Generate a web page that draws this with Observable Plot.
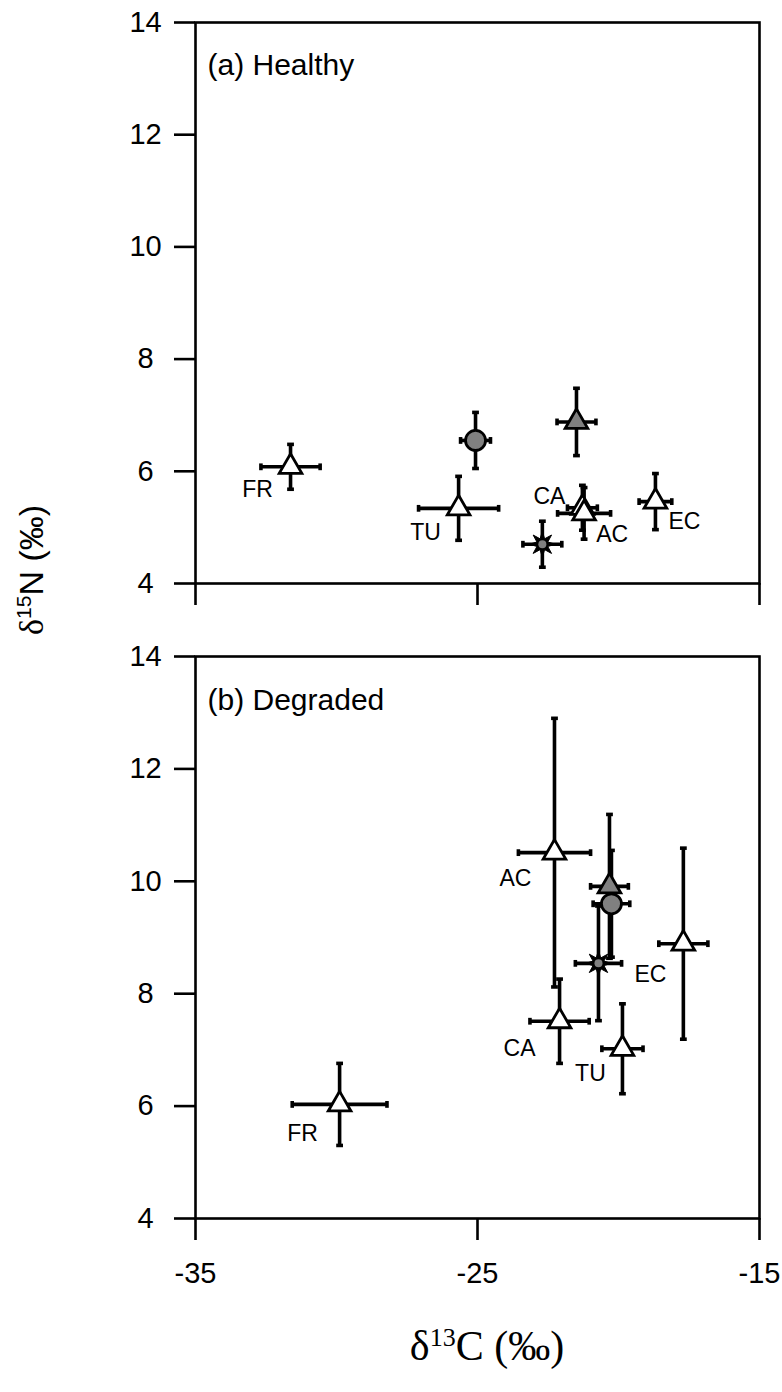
<!DOCTYPE html>
<html>
<head>
<meta charset="utf-8">
<script src="https://cdn.jsdelivr.net/npm/d3@7"></script>
<script src="https://cdn.jsdelivr.net/npm/@observablehq/plot@0.6"></script>
<style>
  body { margin: 0; background: #fff; }
  #wrap { position: relative; width: 782px; height: 1392px; font-family: "Liberation Sans", Arial, sans-serif; }
  #wrap svg { display: block; }
  .ylab { position: absolute; left: 31px; top: 570px; transform: translate(-50%, -50%) rotate(-90deg); font-size: 34px; white-space: nowrap; color: #000; }
  .ylab .d { font-family: "Liberation Serif", "Times New Roman", serif; }
  .xlab { position: absolute; left: 487px; top: 1346px; transform: translate(-50%, -50%); font-family: "Liberation Serif", "Times New Roman", serif; font-size: 42px; white-space: nowrap; color: #000; }
  sup { font-size: 0.62em; vertical-align: 0.55em; line-height: 0; }
</style>
</head>
<body>
<div id="wrap"></div>
<script>
// ---------------- data ----------------
const groups = ["FR", "TU", "CA", "AC", "EC", "circle", "grayTriangle", "star"];
const pointLabels = ["FR", "TU", "CA", "AC", "EC", "", "", ""];

// (a) Healthy
const healthyC    = [-31.63, -25.67, -21.28, -21.22, -18.69, -25.07, -21.49, -22.70];
const healthyCErr = [  1.05,   1.42,   0.53,   0.94,   0.58,   0.53,   0.69,   0.69];
const healthyN    = [  6.08,   5.34,   5.35,   5.25,   5.46,   6.55,   6.88,   4.70];
const healthyNErr = [  0.40,   0.57,   0.40,   0.46,   0.50,   0.50,   0.60,   0.41];

// (b) Degraded
const degradedC    = [-29.89, -19.86, -22.09, -22.27, -17.70, -20.25, -20.32, -20.71];
const degradedCErr = [  1.68,   0.73,   1.05,   1.28,   0.87,   0.65,   0.67,   0.82];
const degradedN    = [  6.03,   7.02,   7.51,  10.51,   8.89,   9.60,   9.91,   8.54];
const degradedNErr = [  0.73,   0.80,   0.75,   2.39,   1.70,   0.95,   1.28,   1.02];

const xTicks = [-35, -25, -15];
const yTicks = [4, 6, 8, 10, 12, 14];
const panelTitles = ["(a) Healthy", "(b) Degraded"];

// label placement (pixels, relative to point)
const labelOffsets = {
  healthy:  {FR: [-33, 23], TU: [-33, 24], CA: [-33, -11], AC: [28, 21], EC: [29, 20]},
  degraded: {FR: [-37, 29], TU: [-32, 25], CA: [-40, 27], AC: [-39, 26], EC: [-33, 31]}
};

// ---------------- symbols ----------------
const star8 = {
  draw(ctx, size) {
    const R = Math.sqrt(size / Math.PI), r = R * 0.45;
    for (let i = 0; i < 16; i++) {
      const a = i * Math.PI / 8 - Math.PI / 2;
      const rr = i % 2 ? r : R;
      const x = rr * Math.cos(a), y = rr * Math.sin(a);
      if (i) ctx.lineTo(x, y); else ctx.moveTo(x, y);
    }
    ctx.closePath();
  }
};
const capV = { draw(ctx) { ctx.rect(-1.8, -3.4, 3.6, 6.8); } };
const capH = { draw(ctx) { ctx.rect(-3.4, -1.8, 6.8, 3.6); } };

function rows(C, CErr, N, NErr) {
  return groups.map((g, i) => ({g, label: pointLabels[i], x: C[i], ex: CErr[i], y: N[i], ey: NErr[i]}));
}

function panel(data, title, offsets, opts) {
  const hCaps = data.flatMap(d => [{x: d.x - d.ex, y: d.y}, {x: d.x + d.ex, y: d.y}]);
  const vCaps = data.flatMap(d => [{x: d.x, y: d.y - d.ey}, {x: d.x, y: d.y + d.ey}]);
  const tri = data.filter(d => ["FR","TU","CA","AC","EC"].includes(d.g));
  const labeled = data.filter(d => d.label);
  const order = ["FR","TU","EC","CA","AC"];
  tri.sort((a, b) => order.indexOf(a.g) - order.indexOf(b.g));
  return Plot.plot({
    width: 782,
    height: opts.height,
    marginTop: opts.marginTop,
    marginBottom: opts.marginBottom,
    marginLeft: 195,
    marginRight: 23,
    style: {fontFamily: "'Liberation Sans', Arial, sans-serif", background: "#fff", overflow: "visible"},
    x: {domain: [-35, -15]},
    y: {domain: [4, 14]},
    marks: [
      Plot.frame({stroke: "#000", strokeWidth: 2.6}),
      Plot.axisY({ticks: yTicks, tickSize: 21, tickPadding: 29, textAnchor: "middle", fontSize: 29, strokeWidth: 2.6, label: null, fill: "#000"}),
      opts.xLabels
        ? Plot.axisX({ticks: xTicks, tickSize: 22, tickPadding: 22, fontSize: 29, strokeWidth: 2.6, label: null, fill: "#000", tickFormat: d => String(d)})
        : Plot.axisX({ticks: xTicks, tickSize: 22, tickFormat: () => "", strokeWidth: 2.6, label: null}),
      Plot.ruleY(data, {y: "y", x1: d => d.x - d.ex, x2: d => d.x + d.ex, stroke: "#000", strokeWidth: 3.6}),
      Plot.ruleX(data, {x: "x", y1: d => d.y - d.ey, y2: d => d.y + d.ey, stroke: "#000", strokeWidth: 3.6}),
      Plot.dot(hCaps, {x: "x", y: "y", symbol: capV, r: 3, fill: "#000", stroke: null}),
      Plot.dot(vCaps, {x: "x", y: "y", symbol: capH, r: 3, fill: "#000", stroke: null}),
      Plot.dot(data.filter(d => d.g === "circle"), {x: "x", y: "y", symbol: "circle", r: 10, fill: "#808080", stroke: "#000", strokeWidth: 2.8}),
      Plot.dot(data.filter(d => d.g === "grayTriangle"), {x: "x", y: "y", symbol: "triangle", r: 8.4, fill: "#808080", stroke: "#000", strokeWidth: 2.8}),
      Plot.dot(tri, {x: "x", y: "y", symbol: "triangle", r: 8.4, fill: "#fff", stroke: "#000", strokeWidth: 2.8}),
      Plot.dot(data.filter(d => d.g === "star"), {x: "x", y: "y", symbol: star8, r: 13, fill: "#000", stroke: "#000", strokeWidth: 1}),
      Plot.dot(data.filter(d => d.g === "star"), {x: "x", y: "y", symbol: "circle", r: 4, fill: "#808080", stroke: null}),
      ...labeled.map(d => Plot.text([d], {x: "x", y: "y", text: "label", dx: offsets[d.g][0], dy: offsets[d.g][1], fontSize: 23, fill: "#000", textAnchor: "middle"})),
      Plot.text([title], {frameAnchor: "top-left", dx: 12, dy: opts.titleDy, text: d => d, fontSize: 30, fill: "#000", textAnchor: "start", lineAnchor: "middle"})
    ]
  });
}

const wrap = document.getElementById("wrap");
wrap.appendChild(panel(rows(healthyC, healthyCErr, healthyN, healthyNErr), panelTitles[0], labelOffsets.healthy,
  {height: 613, marginTop: 22, marginBottom: 30, xLabels: false, titleDy: 43}));
wrap.appendChild(panel(rows(degradedC, degradedCErr, degradedN, degradedNErr), panelTitles[1], labelOffsets.degraded,
  {height: 755, marginTop: 43, marginBottom: 150, xLabels: true, titleDy: 44}));

const yl = document.createElement("div");
yl.className = "ylab";
yl.innerHTML = '<span class="d">δ</span><sup>15</sup>N (‰)';
wrap.appendChild(yl);
const xl = document.createElement("div");
xl.className = "xlab";
xl.innerHTML = 'δ<sup>13</sup>C (‰)';
wrap.appendChild(xl);
</script>
</body>
</html>
